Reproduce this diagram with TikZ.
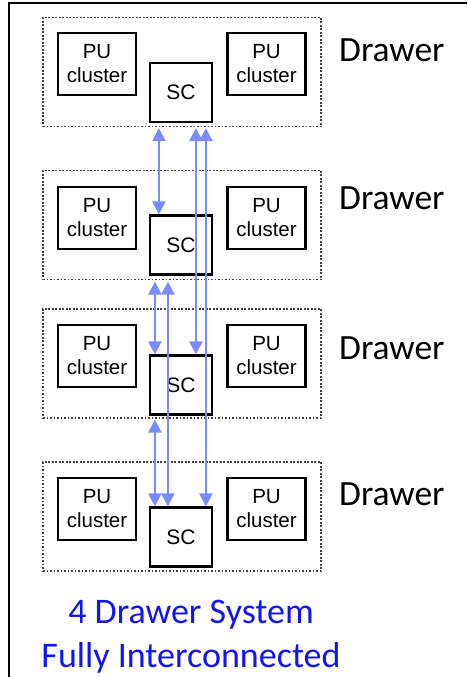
\documentclass[tikz,border=0pt]{standalone}
\usepackage{fontspec}
\setmainfont{Liberation Sans}
\newfontfamily\calib{Carlito}
\usetikzlibrary{arrows.meta,calc}
\definecolor{linkblue}{RGB}{122,139,255}
\definecolor{capblue}{RGB}{20,20,240}
\begin{document}
\begin{tikzpicture}[x=1pt,y=-1pt,
  drawer/.style={draw=black!75,line width=1.9pt,dash pattern=on 1.6pt off 1.9pt,minimum width=278pt,minimum height=109pt,inner sep=0},
  pu/.style={draw,line width=2.2pt,minimum width=78pt,minimum height=62pt,align=center,inner sep=0,font=\fontsize{20.5}{24}\selectfont},
  sc/.style={draw,line width=2.2pt,minimum width=62pt,minimum height=59pt,inner sep=0,font=\fontsize{21}{24}\selectfont},
  lbl/.style={anchor=west,inner sep=0,font=\calib\fontsize{35.5}{40}\selectfont},
  caption/.style={anchor=base,inner sep=0,text=capblue,font=\calib\fontsize{36}{40}\selectfont},
  link/.style={linkblue,line width=2.3pt,{Triangle[width=13pt,length=13pt]}-{Triangle[width=13pt,length=13pt]}}]
\useasboundingbox (0,0) rectangle (467,677);
\draw[line width=2pt] (9,677) -- (9,3) -- (467,3);

% drawers
\node[drawer] (drw1) at (182,72) {};
\node[drawer] (drw2) at (182,225) {};
\node[drawer] (drw3) at (182,363.5) {};
\node[drawer] (drw4) at (182,516.5) {};

\node[pu] (pul1) at (97,64) {PU\\cluster};
\node[pu] (pur1) at (266.5,64) {PU\\cluster};
\node[pu] (pul2) at (97,218) {PU\\cluster};
\node[pu] (pur2) at (266.5,218) {PU\\cluster};
\node[pu] (pul3) at (97,356) {PU\\cluster};
\node[pu] (pur3) at (266.5,356) {PU\\cluster};
\node[pu] (pul4) at (97,509) {PU\\cluster};
\node[pu] (pur4) at (266.5,509) {PU\\cluster};

\node[sc] (sc1) at (181,92.5) {SC};
\node[sc] (sc2) at (181,245) {SC};
\node[sc] (sc3) at (181,385) {SC};
\node[sc] (sc4) at (181,537) {SC};

\node[lbl] (lbl1) at (339,50) {Drawer};
\node[lbl] (lbl2) at (339,198) {Drawer};
\node[lbl] (lbl3) at (339,348) {Drawer};
\node[lbl] (lbl4) at (339,494) {Drawer};

% links
\draw[link] ($(sc1.south west)+(10,5)$) -- ($(sc2.north west)+(10,0)$);
\draw[link] ($(sc1.south west)+(47,5)$) -- ($(sc3.north west)+(47,0)$);
\draw[link] ($(sc1.south west)+(57,5)$) -- ($(sc4.north west)+(57,0)$);
\draw[link] ($(sc2.south west)+(6,6)$) -- ($(sc3.north west)+(6,0)$);
\draw[link] ($(sc2.south west)+(19,6)$) -- ($(sc4.north west)+(19,0)$);
\draw[link] ($(sc3.south west)+(6,4)$) -- ($(sc4.north west)+(6,0)$);

\node[caption] (cap1) at (191,623) {4 Drawer System};
\node[caption] (cap2) at (191,667) {Fully Interconnected};
\end{tikzpicture}
\end{document}
